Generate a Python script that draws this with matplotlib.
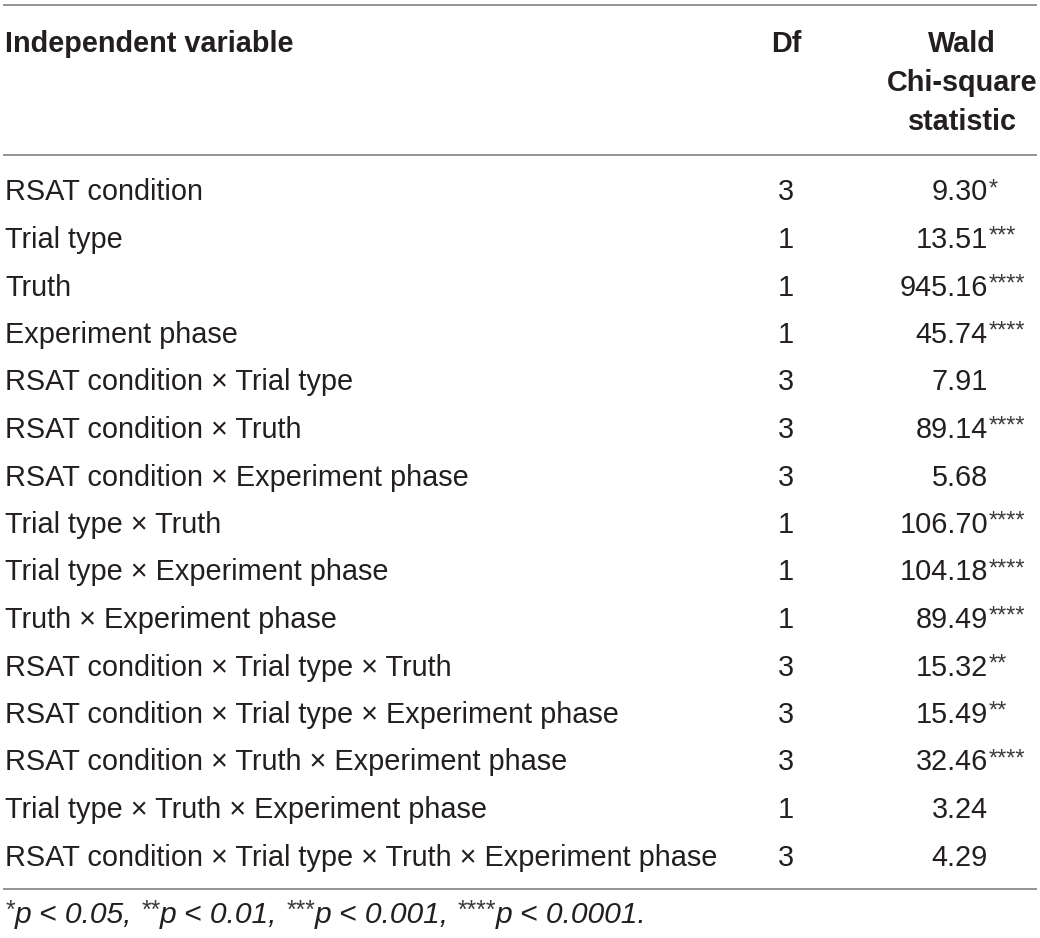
import matplotlib
matplotlib.use("Agg")
import matplotlib.pyplot as plt

variables = [
    "RSAT condition",
    "Trial type",
    "Truth",
    "Experiment phase",
    "RSAT condition \u00d7 Trial type",
    "RSAT condition \u00d7 Truth",
    "RSAT condition \u00d7 Experiment phase",
    "Trial type \u00d7 Truth",
    "Trial type \u00d7 Experiment phase",
    "Truth \u00d7 Experiment phase",
    "RSAT condition \u00d7 Trial type \u00d7 Truth",
    "RSAT condition \u00d7 Trial type \u00d7 Experiment phase",
    "RSAT condition \u00d7 Truth \u00d7 Experiment phase",
    "Trial type \u00d7 Truth \u00d7 Experiment phase",
    "RSAT condition \u00d7 Trial type \u00d7 Truth \u00d7 Experiment phase",
]
df_values = [3, 1, 1, 1, 3, 3, 3, 1, 1, 1, 3, 3, 3, 1, 3]
chi_values = ["9.30", "13.51", "945.16", "45.74", "7.91", "89.14", "5.68",
              "106.70", "104.18", "89.49", "15.32", "15.49", "32.46", "3.24", "4.29"]
stars = ["*", "***", "****", "****", "", "****", "", "****", "****", "****",
         "**", "**", "****", "", ""]
headers = ["Independent variable", "Df", "Wald\nChi-square\nstatistic"]
footnote_parts = [("*", True), ("p < 0.05, ", False), ("**", True), ("p < 0.01, ", False),
                  ("***", True), ("p < 0.001, ", False), ("****", True), ("p < 0.0001.", False)]

W, H = 1040, 938
fig = plt.figure(figsize=(W / 100, H / 100), dpi=100)
ax = fig.add_axes([0, 0, 1, 1])
ax.set_xlim(0, W)
ax.set_ylim(H, 0)
ax.axis("off")

FONT = "Liberation Sans"
TXT = "#231f20"
LINE = "#8c8c8c"
FS = 20.8
STAR_FS = FS * 0.82
BL = 10     # baseline offset from row centre (px)
RAISE = 5   # star raise (px)

for y in (5, 155, 889):
    ax.plot([3, 1037], [y, y], color=LINE, lw=1.3, solid_capstyle="butt")

ax.text(5, 42 + BL, headers[0], fontsize=FS, fontweight="bold", family=FONT,
        color=TXT, ha="left", va="baseline")
ax.text(786, 42 + BL, headers[1], fontsize=FS, fontweight="bold", family=FONT,
        color=TXT, ha="center", va="baseline")
for i, line in enumerate(headers[2].split("\n")):
    ax.text(962, 42 + BL + i * 39, line, fontsize=FS, fontweight="bold", family=FONT,
            color=TXT, ha="center", va="baseline")

y0, dy = 190.5, 47.5
for i, (v, d, c, s) in enumerate(zip(variables, df_values, chi_values, stars)):
    y = y0 + i * dy + BL
    ax.text(5, y, v, fontsize=FS, family=FONT, color=TXT, ha="left", va="baseline")
    ax.text(786, y, str(d), fontsize=FS, family=FONT, color=TXT, ha="center", va="baseline")
    ax.text(988, y, c, fontsize=FS, family=FONT, color=TXT, ha="right", va="baseline")
    if s:
        ax.text(988.5, y - RAISE, s, fontsize=STAR_FS, family=FONT, color="#3a3a3a",
                ha="left", va="baseline")

# footnote with raised stars
fig.canvas.draw()
renderer = fig.canvas.get_renderer()
x = 5
fy = 913 + BL
FFS = 21.6
for txt, sup in footnote_parts:
    if sup:
        t = ax.text(x, fy - RAISE, txt, fontsize=FFS * 0.82, family=FONT, style="italic",
                    color="#3a3a3a", ha="left", va="baseline")
    else:
        t = ax.text(x, fy, txt, fontsize=FFS, family=FONT, style="italic",
                    color=TXT, ha="left", va="baseline")
    bb = t.get_window_extent(renderer=renderer)
    x += bb.width * (W / fig.bbox.width)

fig.savefig("out.png", dpi=100)
